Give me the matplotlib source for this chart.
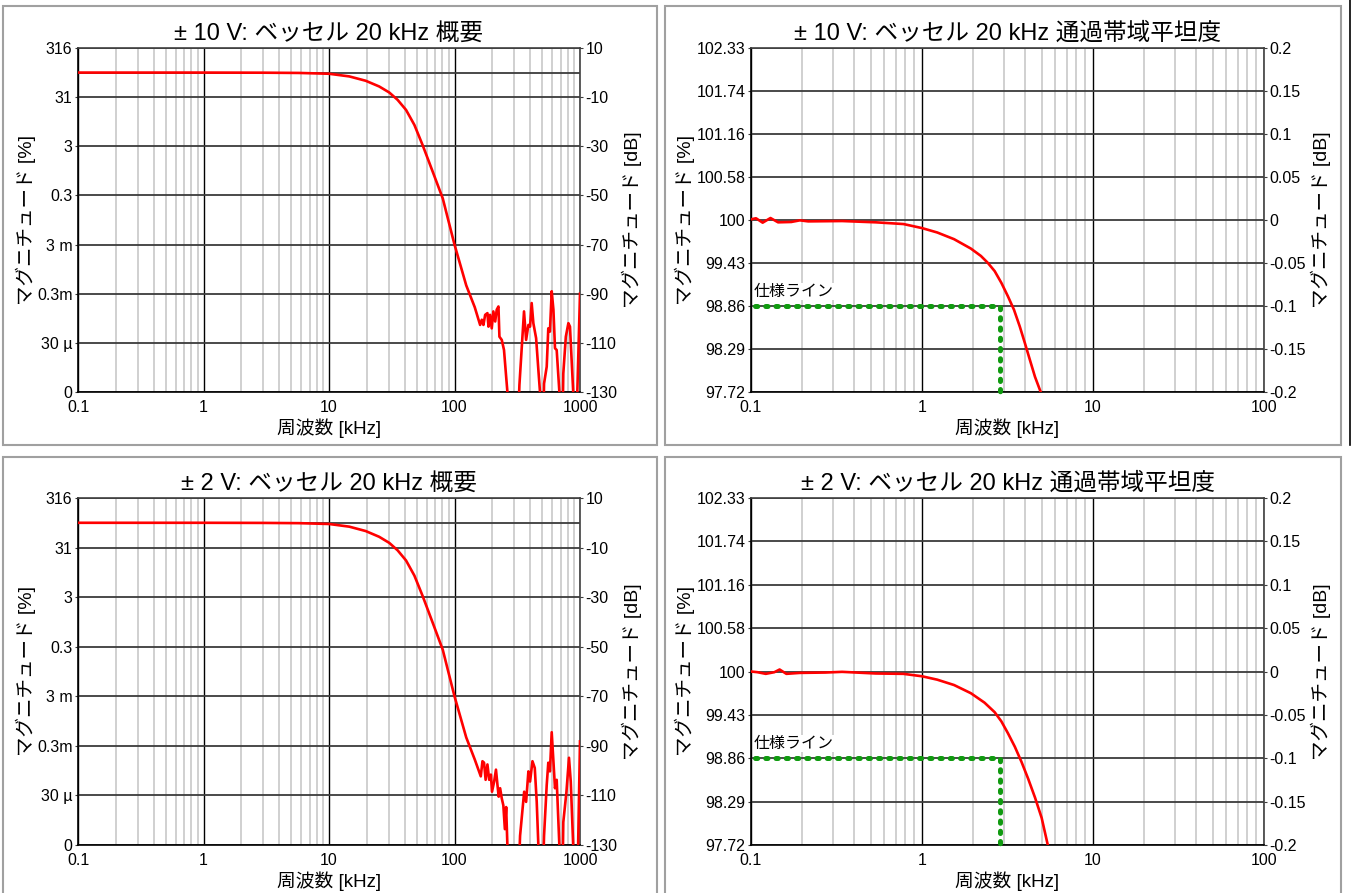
import matplotlib
matplotlib.use('Agg')
import matplotlib.pyplot as plt
from matplotlib.patches import Rectangle
from matplotlib.lines import Line2D
from matplotlib.ticker import FixedLocator, LogLocator, NullFormatter

plt.rcParams['font.family'] = ['Liberation Sans', 'Noto Sans CJK JP']

# --- data ---
# overview panels: frequency [kHz] vs magnitude [dB]
rolloff_f = [0.1, 1, 3, 5.75, 10, 14.5, 19.6, 25.1, 30.2, 35.2, 41.1, 47.9, 55.7, 67, 80.6, 100, 124, 145]
rolloff_db = [0, 0, -0.05, -0.15, -0.48, -1.56, -3.33, -5.65, -8.1, -11.1, -15.2, -21.3, -29.5, -40.3,
              -51.2, -70, -86.6, -95.5]

noise_top_f = [160, 165, 170, 175.5, 183, 186.5, 192, 198, 204, 211, 217, 224, 228, 238, 248, 258, 264,
               270, 320, 329, 358, 372, 388, 400, 412, 425, 447, 466, 480, 490, 510, 517, 543, 559,
               576, 595, 614, 632, 652, 685, 700, 725, 736, 771, 808, 832, 883, 895, 940, 952, 1000]
noise_top_db = [-102.7, -100.6, -102.7, -98.6, -97.9, -103.4, -98.6, -104.1, -97.2, -101.3, -96.5, -95.2,
                -107.5, -108.8, -112.9, -123.8, -130, -145, -145, -127.2, -97.2, -108.8, -102.7, -103.4,
                -93.8, -102, -108.1, -121.1, -130, -145, -145, -126.6, -119.7, -104.1, -105.4, -89,
                -96.5, -112.2, -112.9, -130, -145, -145, -122.5, -107.5, -102, -103.4, -130, -145,
                -145, -130, -90]

noise_bot_f = [162, 167, 172, 177, 183, 189, 195, 199, 207, 214, 220, 225, 231, 238, 245, 252, 258, 264,
               270, 323, 333, 359, 372, 388, 400, 418, 436, 452, 466, 480, 505, 517, 543, 559, 576,
               595, 614, 632, 652, 685, 716, 725, 736, 780, 817, 844, 883, 931, 955, 966, 1000]
noise_bot_db = [-102.3, -96.2, -96.8, -103.7, -97.5, -103.7, -101.6, -108.5, -104.4, -99.6, -105.8,
                -110.5, -107.1, -111.2, -114, -123.6, -114.7, -130.4, -145, -145, -126.3, -108.5,
                -112.6, -100.3, -104.4, -96.2, -98.9, -112.6, -130.4, -145, -145, -126.3, -105.8,
                -96.8, -100.3, -84.5, -96.2, -107.1, -103.7, -130.4, -145, -145, -120.8, -108.5,
                -94.8, -104.4, -130.4, -145, -145, -130.4, -88.2]

# passband flatness panels: frequency [kHz] vs magnitude [dB]
flat_top_f = [0.1, 0.107, 0.117, 0.13, 0.144, 0.172, 0.193, 0.216, 0.341, 0.537, 0.779, 1.0, 1.227,
              1.54, 1.93, 2.21, 2.42, 2.66, 2.91, 3.18, 3.45, 3.73, 4.0, 4.28, 4.58, 4.97]
flat_top_db = [0.0008, 0.002, -0.0031, 0.0023, -0.0027, -0.0023, -0.0004, -0.0016, -0.0012, -0.0027,
               -0.0047, -0.0094, -0.0145, -0.0223, -0.0332, -0.0418, -0.0496, -0.0594, -0.073,
               -0.0887, -0.1043, -0.1238, -0.1434, -0.163, -0.1824, -0.2012]

flat_bot_f = [0.1, 0.109, 0.122, 0.137, 0.147, 0.161, 0.193, 0.272, 0.341, 0.537, 0.779, 1.0, 1.227,
              1.54, 1.93, 2.32, 2.66, 2.91, 3.18, 3.49, 3.82, 4.18, 4.58, 5.01, 5.44]
flat_bot_db = [0, -0.0008, -0.0027, -0.0008, 0.0023, -0.0027, -0.0016, -0.0012, -0.0004, -0.0023,
               -0.0027, -0.0055, -0.0094, -0.0156, -0.025, -0.0359, -0.0469, -0.0574, -0.0711,
               -0.0867, -0.1043, -0.1238, -0.1453, -0.1688, -0.2]

spec_f = [0.105, 2.86, 2.86]
spec_db = [-0.1, -0.1, -0.2]

# axis ticks
ov_yticks = [10, -10, -30, -50, -70, -90, -110, -130]
ov_pct_labels = ['316', '31', '3', '0.3', '3 m', '0.3m', '30 µ', '0']
ov_db_labels = ['10', '-10', '-30', '-50', '-70', '-90', '-110', '-130']
ov_xticks = [0.1, 1, 10, 100, 1000]
ov_xlabels = ['0.1', '1', '10', '100', '1000']

fl_yticks = [0.2, 0.15, 0.1, 0.05, 0, -0.05, -0.1, -0.15, -0.2]
fl_pct_labels = ['102.33', '101.74', '101.16', '100.58', '100', '99.43', '98.86', '98.29', '97.72']
fl_db_labels = ['0.2', '0.15', '0.1', '0.05', '0', '-0.05', '-0.1', '-0.15', '-0.2']
fl_xticks = [0.1, 1, 10, 100]
fl_xlabels = ['0.1', '1', '10', '100']

titles = ['± 10 V: ベッセル 20 kHz 概要', '± 10 V: ベッセル 20 kHz 通過帯域平坦度',
          '± 2 V: ベッセル 20 kHz 概要', '± 2 V: ベッセル 20 kHz 通過帯域平坦度']

W, H = 1352, 893
fig = plt.figure(figsize=(W / 100, H / 100), dpi=100)
fig.patch.set_facecolor('white')


def px_axes(l, t, r, b):
    return fig.add_axes([l / W, 1 - b / H, (r - l) / W, (b - t) / H])


def frame(l, t, r, b):
    fig.add_artist(Rectangle((l / W, 1 - b / H), (r - l) / W, (b - t) / H, transform=fig.transFigure,
                             fill=False, edgecolor='#a0a0a0', lw=1.5))


def style_axes(ax, xticks, xlabels, yticks, left_labels, right_labels, ylim, title, extra_h=None):
    ax.set_xscale('log')
    ax.set_xlim(xticks[0], xticks[-1])
    ax.set_ylim(ylim)
    ax.xaxis.set_major_locator(FixedLocator(xticks))
    ax.set_xticklabels(xlabels)
    ax.xaxis.set_minor_locator(LogLocator(base=10, subs=range(2, 10)))
    ax.xaxis.set_minor_formatter(NullFormatter())
    ax.set_yticks(yticks)
    ax.set_yticklabels(left_labels)
    ax.grid(which='minor', axis='x', color='#c8c8c8', lw=1.2)
    ax.grid(which='major', axis='x', color='black', lw=1.0)
    ax.grid(which='major', axis='y', color='#3c3c3c', lw=1.3)
    if extra_h is not None:
        ax.axhline(extra_h, color='#3c3c3c', lw=1.3, zorder=1)
    ax.set_axisbelow(True)
    ax.tick_params(axis='x', which='both', length=0, pad=6, labelsize=11.5)
    ax.tick_params(axis='y', length=2, pad=2, labelsize=11.5, color='#3c3c3c')
    for s in ax.spines.values():
        s.set_color('#404040')
        s.set_linewidth(1.2)
    ax.spines['left'].set_color('black')
    ax.spines['bottom'].set_color('black')
    ax2 = ax.twinx()
    ax2.set_ylim(ylim)
    ax2.set_yticks(yticks)
    ax2.set_yticklabels(right_labels)
    ax2.tick_params(axis='y', length=2, pad=2, labelsize=11.5, color='#3c3c3c')
    for s in ax2.spines.values():
        s.set_visible(False)
    ax.set_xlabel('周波数 [kHz]', fontsize=13.5, labelpad=2)
    ax.set_ylabel('マグニチュード [%]', fontsize=14, labelpad=1)
    ax2.set_ylabel('マグニチュード [dB]', fontsize=14, labelpad=3)
    ax.set_title(title, fontsize=17, pad=6)
    return ax2


# panel frames
frame(3, 6, 657, 445)
frame(665, 6, 1341, 445)
frame(3, 457, 657, 900)
frame(665, 457, 1341, 900)
fig.add_artist(Line2D([1349.5 / W, 1349.5 / W], [1, 1 - 445 / H], transform=fig.transFigure,
                      color='black', lw=1.2))

ax_tl = px_axes(78, 48, 580, 392)
ax_bl = px_axes(78, 498, 580, 845)
ax_tr = px_axes(751, 48, 1264, 392)
ax_br = px_axes(751, 498, 1264, 845)

red = '#ff0000'
green = '#109a10'

for ax, noise_f, noise_db, title in [(ax_tl, noise_top_f, noise_top_db, titles[0]),
                                     (ax_bl, noise_bot_f, noise_bot_db, titles[2])]:
    style_axes(ax, ov_xticks, ov_xlabels, ov_yticks, ov_pct_labels, ov_db_labels, (-130, 10), title,
               extra_h=0)
    ax.plot(rolloff_f + noise_f, rolloff_db + noise_db, color=red, lw=1.9, zorder=3)

for ax, ff, fdb, title in [(ax_tr, flat_top_f, flat_top_db, titles[1]),
                           (ax_br, flat_bot_f, flat_bot_db, titles[3])]:
    style_axes(ax, fl_xticks, fl_xlabels, fl_yticks, fl_pct_labels, fl_db_labels, (-0.2, 0.2), title)
    ax.plot(spec_f, spec_db, color=green, lw=3.6, linestyle=(0, (0.45, 1.6)),
            dash_capstyle='round', zorder=3, clip_on=False)
    ax.plot(ff, fdb, color=red, lw=1.9, zorder=4)
    ax.text(0.104, -0.083, '仕様ライン', fontsize=11.5, va='center', ha='left', zorder=5,
            bbox=dict(facecolor='white', edgecolor='none', pad=0.5))

fig.savefig('out.png', dpi=100, facecolor='white')
